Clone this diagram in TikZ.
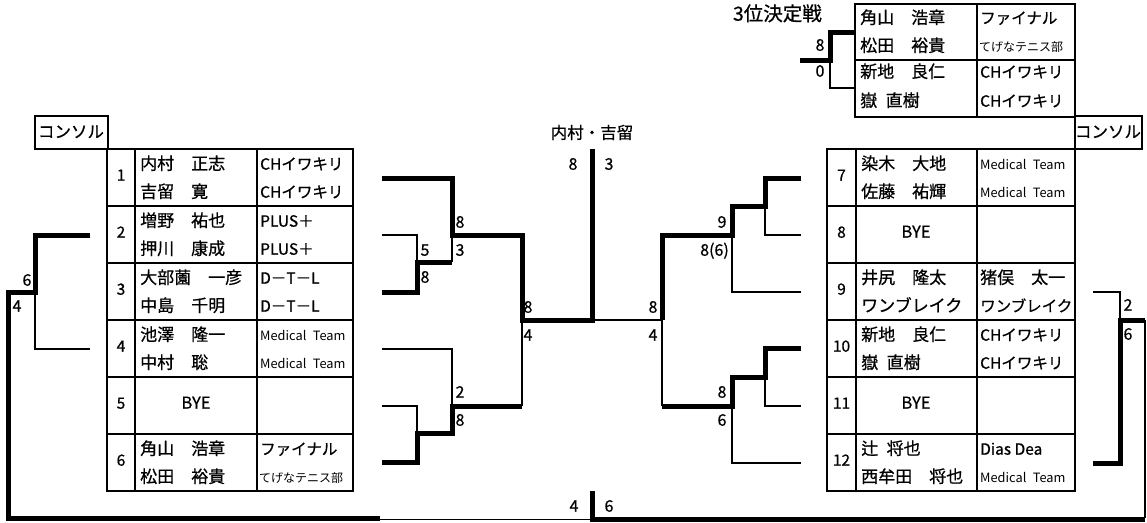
\documentclass[tikz,border=0pt]{standalone}
\usepackage{fontspec}
\setmainfont{Noto Sans CJK JP}[AutoFakeBold=0.7]
\newcommand{\hs}{\hspace{0.5em}}
\begin{document}
\begin{tikzpicture}[x=1pt,y=-1pt,
  win/.style={line width=5pt},
  lose/.style={line width=1.8pt},
  grid/.style={line width=2pt},
  txt/.style={inner sep=0pt,text height=0.87em,text depth=0.13em},
  nm/.style={txt,anchor=west,font=\fontsize{17}{17}\selectfont\bfseries},
  tm/.style={txt,anchor=west,font=\fontsize{15.5}{16}\selectfont\bfseries},
  sm/.style={txt,anchor=west,font=\fontsize{12.8}{13}\selectfont},
  tn/.style={txt,anchor=west,font=\fontsize{12}{12}\selectfont},
  num/.style={txt,anchor=center,font=\fontsize{15.5}{16}\selectfont\bfseries},
  sc/.style={txt,anchor=center,font=\fontsize{16}{16}\selectfont\bfseries},
  ttl/.style={txt,anchor=center,font=\fontsize{16.5}{17}\selectfont\bfseries},
  bigttl/.style={txt,anchor=east,font=\fontsize{19.5}{20}\selectfont\bfseries},
]
\useasboundingbox (0,0) rectangle (1147,522);

% ---------- tables ----------
% left table
\draw[grid] (107,148.5) rectangle (353,490.5);
\draw[grid] (135,148.5) -- (135,490.5) (257,148.5) -- (257,490.5);
\foreach \yy in {205.5,262.5,319.5,376.5,433.5} \draw[grid] (107,\yy) -- (353,\yy);
% right table
\draw[grid] (827,148.5) rectangle (1075,490.5);
\draw[grid] (856,148.5) -- (856,490.5) (977,148.5) -- (977,490.5);
\foreach \yy in {205.5,262.5,319.5,376.5,433.5} \draw[grid] (827,\yy) -- (1075,\yy);
% consolation boxes
\draw[grid] (35,116) rectangle (108,148.5);
\draw[grid] (1074.5,116) rectangle (1142,148.5);
% third place table
\draw[grid] (855,4) rectangle (1074.5,116.5);
\draw[grid] (977,4) -- (977,116.5) (855,59.5) -- (1074.5,59.5);

\node[ttl] (conL) at (71,134) {コンソル};
\node[ttl] (conR) at (1108,134) {コンソル};
\node[bigttl] (third) at (822,17) {3位決定戦};
\node[ttl] (champ) at (592,135) {内村・吉留};

% ---------- left entries ----------
\node[num] (n1) at (121,177) {1};
\node[nm] (a1) at (140,166) {内村　正志};
\node[nm] (b1) at (140,194) {吉留　寛};
\node[tm] (c1) at (260,166) {CHイワキリ};
\node[tm] (d1) at (260,194) {CHイワキリ};

\node[num] (n2) at (121,234) {2};
\node[nm] (a2) at (140,223) {増野　祐也};
\node[nm] (b2) at (140,251) {押川　康成};
\node[tm] (c2t) at (260,223) {PLUS＋};
\node[tm] (d2) at (260,251) {PLUS＋};

\node[num] (n3) at (121,291) {3};
\node[nm] (a3) at (140,280) {大部薗　一彦};
\node[nm] (b3) at (140,308) {中島　千明};
\node[tm] (c3) at (260,280) {D－T－L};
\node[tm] (d3) at (260,308) {D－T－L};

\node[num] (n4) at (121,348) {4};
\node[nm] (a4) at (140,337) {池澤　隆一};
\node[nm] (b4) at (140,365) {中村　聡};
\node[sm] (c4t) at (260,337) {Medical\enspace Team};
\node[sm] (d4) at (260,365) {Medical\enspace Team};

\node[num] (n5) at (121,405) {5};
\node[ttl] (a5) at (196,405) {BYE};

\node[num] (n6) at (121,462) {6};
\node[nm] (a6) at (140,451) {角山　浩章};
\node[nm] (b6) at (140,479) {松田　裕貴};
\node[tm] (c6) at (260,451) {ファイナル};
\node[tn] (d6) at (259,479) {てげなテニス部};

% ---------- right entries ----------
\node[num] (n7) at (841.5,177) {7};
\node[nm] (a7) at (861,166) {染木　大地};
\node[nm] (b7) at (861,194) {佐藤　祐輝};
\node[sm] (c7) at (980,166) {Medical\enspace Team};
\node[sm] (d7) at (980,194) {Medical\enspace Team};

\node[num] (n8) at (841.5,234) {8};
\node[ttl] (a8) at (916,234) {BYE};

\node[num] (n9) at (841.5,291) {9};
\node[nm] (a9) at (861,280) {井尻　隆太};
\node[nm] (b9) at (861,308) {ワンブレイク};
\node[nm] (c9) at (980,280) {猪俣　太一};
\node[nm,font=\fontsize{15.5}{16}\selectfont\bfseries] (d9) at (980,308) {ワンブレイク};

\node[num] (n10) at (841.5,348) {10};
\node[nm] (a10) at (861,337) {新地　良仁};
\node[nm] (b10) at (861,365) {嶽\hs 直樹};
\node[tm] (c10) at (980,337) {CHイワキリ};
\node[tm] (d10) at (980,365) {CHイワキリ};

\node[num] (n11) at (841.5,405) {11};
\node[ttl] (a11) at (916,405) {BYE};

\node[num] (n12) at (841.5,462) {12};
\node[nm] (a12) at (861,451) {辻\hs 将也};
\node[nm] (b12) at (861,479) {西牟田　将也};
\node[tm] (c12t) at (980,451) {Dias Dea};
\node[sm] (d12) at (980,479) {Medical\enspace Team};

% ---------- third place entries ----------
\node[nm] (t1) at (860,20) {角山　浩章};
\node[nm] (t2) at (860,48) {松田　裕貴};
\node[tm] (t3) at (980,20) {ファイナル};
\node[tn] (t4) at (979,48) {てげなテニス部};
\node[nm] (t5) at (860,74) {新地　良仁};
\node[nm] (t6n) at (860,103) {嶽\hs 直樹};
\node[tm] (t7) at (980,74) {CHイワキリ};
\node[tm] (t8) at (980,103) {CHイワキリ};

% ---------- bracket coordinates ----------
\coordinate (e1) at (382,178);
\coordinate (e2) at (382,235);
\coordinate (e3) at (382,292);
\coordinate (e4) at (382,349);
\coordinate (e5) at (382,406);
\coordinate (e6) at (382,462);
\coordinate (e7) at (801,178);
\coordinate (e8) at (801,235);
\coordinate (e9) at (801,292);
\coordinate (e10) at (801,348);
\coordinate (e11) at (801,406);
\coordinate (e12) at (801,463);
\coordinate (k2) at (90,235);
\coordinate (k4) at (90,349);
\coordinate (k9) at (1093,292);
\coordinate (k12) at (1093,463);
\coordinate (ft) at (592,149);
\coordinate (fb) at (592,491);
\coordinate (tw) at (800,60);
\coordinate (tu) at (855,32);
\coordinate (tl) at (855,88);

% left main bracket
\draw[lose] (e2) -| (417,262);
\draw[lose] (452,262) -- (452,235);
\draw[win] (e3) -| (417,262) -- (452,262);
\draw[lose] (e4) -| (452,406);
\draw[lose] (e5) -| (417,433);
\draw[lose] (522,406) -- (522,320);
\draw[win] (e6) -| (417,433) -| (452,406) -- (522,406);
\draw[lose] (592,320) -- (662,320);
\draw[win] (e1) -| (452,235) -| (522,320) -| (ft);

% right main bracket
\draw[lose] (e8) -| (765,206);
\draw[lose] (e9) -| (732,235);
\draw[win] (e7) -| (765,206) -| (732,235) -| (662,320);
\draw[lose] (e11) -| (765,377);
\draw[lose] (e12) -| (732,406);
\draw[lose] (662,406) -- (662,320);
\draw[win] (e10) -| (765,377) -| (732,406) -- (662,406);

% consolation
\draw[lose] (k4) -| (35,292);
\draw[lose] (380,519.5) -- (592,519.5);
\draw[win] (k2) -| (35,292) -| (8,518.5) -- (380,518.5);
\draw[lose] (k9) -| (1120,320);
\draw[lose] (1145,320) -- (1145,518);
\draw[win] (k12) -| (1120,320) -- (1145,320);
\draw[win] (1145,519) -- (592,519) -- (fb);

% third place
\draw[lose] (830,60) |- (tl);
\draw[win] (tw) -| (830,32) -- (tu);

% ---------- scores ----------
\node[sc] at (460,224) {8};
\node[sc] at (460,252) {3};
\node[sc] at (425,252) {5};
\node[sc] at (425,279) {8};
\node[sc] at (528,309) {8};
\node[sc] at (528,337) {4};
\node[sc] at (460,394) {2};
\node[sc] at (460,422) {8};
\node[sc] at (573,166) {8};
\node[sc] at (609,166) {3};
\node[sc] at (574,508) {4};
\node[sc] at (609,508) {6};
\node[sc] at (722,224) {9};
\node[sc,anchor=east] at (729,252) {8(6)};
\node[sc] at (653,309) {8};
\node[sc] at (653,337) {4};
\node[sc] at (722,394) {8};
\node[sc] at (722,422) {6};
\node[sc] at (27,282) {6};
\node[sc] at (17,308) {4};
\node[sc] at (1128,307) {2};
\node[sc] at (1128,336) {6};
\node[sc] at (820,47) {8};
\node[sc] at (820,73) {0};
\end{tikzpicture}
\end{document}
